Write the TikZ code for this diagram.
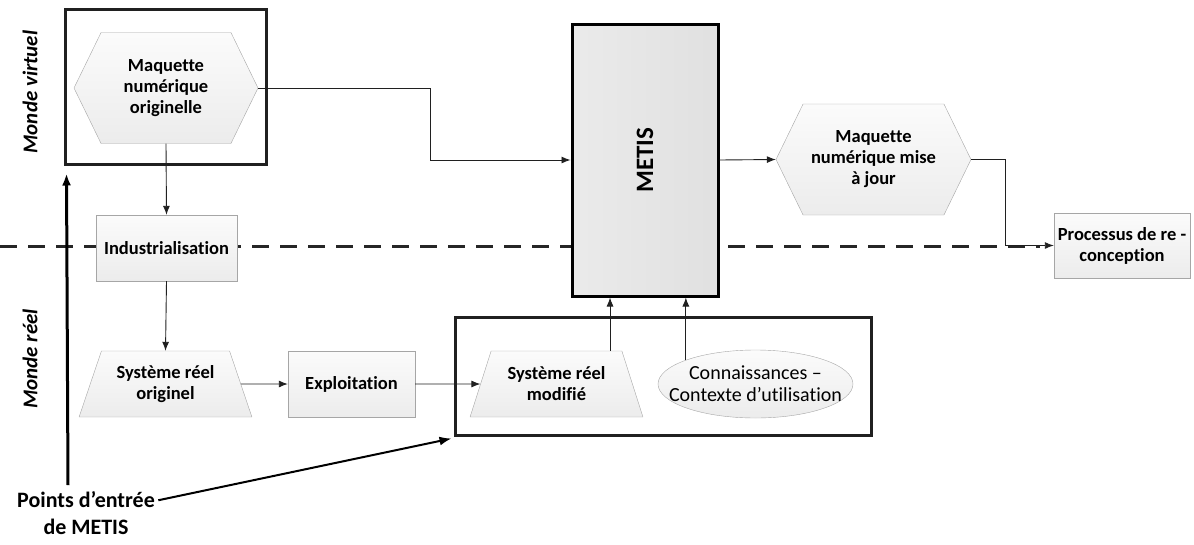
\documentclass[tikz,border=0pt]{standalone}
\usepackage{fontspec}
\setmainfont{Carlito}[Ligatures=NoCommon]
\usetikzlibrary{shapes.geometric,shapes.symbols,arrows.meta,positioning}

\begin{document}
\begin{tikzpicture}[x=1pt,y=-1pt,
	font=\bfseries\fontsize{18.5}{21}\selectfont,
	bloc/.style={draw=gray!70, top color=gray!3, bottom color=gray!15, align=center, inner sep=1pt},
	hexa/.style={bloc, signal, signal to=west and east, signal pointer angle=128, minimum height=111},
	trapeze/.style={bloc, trapezium, trapezium left angle=66, trapezium right angle=66, trapezium stretches, minimum width=173, minimum height=66},
	cadre/.style={draw=gray!25!black, line width=3pt, inner sep=0pt},
	fleche/.style={draw=gray!25!black, line width=0.9pt, -{Latex[length=9pt,width=7pt]}},
	fleche noire/.style={black, -{Latex[length=12pt,width=9pt]}},
	pointille/.style={draw=gray!30!black, line width=3pt, dash pattern=on 17pt off 11pt},
	monde/.style={rotate=90, font=\bfseries\itshape\fontsize{21}{24}\selectfont}
]
	\useasboundingbox (0,0) rectangle (1194,544);

	% frontiere virtuel / reel
	\draw[pointille] (0,246) -- (1040,246);

	\node[monde] (virt) at (30,92) {Monde virtuel};
	\node[monde] (mreel) at (30,359) {Monde réel};

	\node[cadre, minimum width=201, minimum height=155] (virtuel) at (165.5,86.5) {};
	\node[hexa, minimum width=184] (maq) at (166,88) {Maquette\\numérique\\originelle};
	\node[bloc, minimum width=141, minimum height=66] (indus) at (166.5,248) {Industrialisation};
	\node[trapeze] (sro) at (165.5,384) {Système réel\\originel};
	\node[bloc, minimum width=127, minimum height=66] (expl) at (351.5,384) {Exploitation};

	\node[cadre, minimum width=416, minimum height=118] (reel) at (663,376) {};
	\node[trapeze] (srm) at (556.5,384) {Système réel\\modifié};
	\node[bloc, ellipse, inner xsep=-25pt, inner ysep=0pt, minimum width=195, minimum height=68, font=\fontsize{20}{22}\selectfont] (conn) at (755.5,384) {Connaissances –\\Contexte d’utilisation};

	\node[draw=black, line width=3pt, left color=gray!16, right color=gray!24, minimum width=146, minimum height=272] (metis) at (645,160) {\rotatebox{90}{\fontsize{25}{30}\selectfont METIS}};

	\node[hexa, minimum width=195] (maj) at (873.5,159.5) {Maquette\\numérique mise\\à jour};
	\node[bloc, minimum width=136, minimum height=65] (recon) at (1122,245.5) {Processus de re -\\conception};

	\node[align=center, font=\bfseries\fontsize{22}{27}\selectfont] (points) at (86,513) {Points d’entrée\\de METIS};

	% liaisons
	\coordinate (coude1) at (430,160);
	\coordinate (coude2) at (1005,245.5);
	\draw[fleche] (maq.south) -- (indus.north);
	\draw[fleche] (indus.south) -- (sro.north);
	\draw[fleche] (sro.east) -- (expl.west);
	\draw[fleche] (expl.east) -- (srm.west);
	\draw[fleche] ([xshift=-12pt]srm.top right corner) -- ([xshift=-12pt]srm.top right corner |- metis.south);
	\draw[fleche] (conn.161) -- (conn.161 |- metis.south);
	\draw[fleche] (maq.east) -| (coude1) -- (metis.west);
	\draw[fleche] (metis.east) -- (maj.west);
	\draw[fleche] (maj.east) -| (coude2) -- (recon.west);

	% points d'entree
	\coordinate (base) at (68,485);
	\draw[fleche noire, line width=3pt] (base) -- ([xshift=3pt,yshift=-8pt]virtuel.south west);
	\draw[fleche noire, line width=2pt] (points.10) -- ([shift={(-2pt,-2pt)}]reel.south west);

\end{tikzpicture}
\end{document}
